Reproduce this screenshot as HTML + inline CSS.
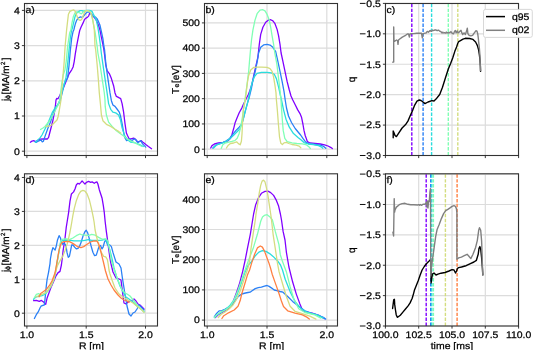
<!DOCTYPE html>
<html><head><meta charset="utf-8"><style>
html,body{margin:0;padding:0;background:#fff;width:533px;height:350px;overflow:hidden;}
svg{display:block;will-change:transform;}
text{font-family:"Liberation Sans", sans-serif;stroke:#000;stroke-width:0.25px;text-rendering:geometricPrecision;}
</style></head><body><svg width="533" height="350" viewBox="0 0 533 350" font-family='"Liberation Sans", sans-serif' font-size="10" fill="#000"><clipPath id="clipa"><rect x="24.5" y="3.5" width="133.0" height="152.0"/></clipPath><clipPath id="clipb"><rect x="204.5" y="3.5" width="133.0" height="152.0"/></clipPath><clipPath id="clipc"><rect x="385.5" y="3.5" width="133.0" height="152.0"/></clipPath><clipPath id="clipd"><rect x="24.5" y="173.8" width="133.0" height="152.2"/></clipPath><clipPath id="clipe"><rect x="204.5" y="173.8" width="133.0" height="152.2"/></clipPath><clipPath id="clipf"><rect x="385.5" y="173.8" width="133.0" height="152.2"/></clipPath><path d="M26.90 3.5V155.5M86.20 3.5V155.5M145.50 3.5V155.5M24.5 151.20H157.5M24.5 116.00H157.5M24.5 80.80H157.5M24.5 45.60H157.5M24.5 10.40H157.5" stroke="#dcdcdc" stroke-width="1.2" fill="none"/><path d="M207.20 3.5V155.5M267.00 3.5V155.5M326.80 3.5V155.5M204.5 149.20H337.5M204.5 123.94H337.5M204.5 98.68H337.5M204.5 73.42H337.5M204.5 48.16H337.5M204.5 22.90H337.5" stroke="#dcdcdc" stroke-width="1.2" fill="none"/><path d="M385.40 3.5V155.5M418.70 3.5V155.5M452.00 3.5V155.5M485.30 3.5V155.5M518.60 3.5V155.5M385.5 155.50H518.5M385.5 125.08H518.5M385.5 94.66H518.5M385.5 64.24H518.5M385.5 33.82H518.5M385.5 3.40H518.5" stroke="#dcdcdc" stroke-width="1.2" fill="none"/><path d="M26.90 173.8V326.0M86.20 173.8V326.0M145.50 173.8V326.0M24.5 313.20H157.5M24.5 279.27H157.5M24.5 245.34H157.5M24.5 211.41H157.5M24.5 177.48H157.5" stroke="#dcdcdc" stroke-width="1.2" fill="none"/><path d="M207.20 173.8V326.0M267.00 173.8V326.0M326.80 173.8V326.0M204.5 320.10H337.5M204.5 289.90H337.5M204.5 259.70H337.5M204.5 229.50H337.5M204.5 199.30H337.5" stroke="#dcdcdc" stroke-width="1.2" fill="none"/><path d="M385.40 173.8V326.0M418.70 173.8V326.0M452.00 173.8V326.0M485.30 173.8V326.0M518.60 173.8V326.0M385.5 326.00H518.5M385.5 295.62H518.5M385.5 265.24H518.5M385.5 234.86H518.5M385.5 204.48H518.5M385.5 174.10H518.5" stroke="#dcdcdc" stroke-width="1.2" fill="none"/><path d="M30.30 142.20 L32.00 141.10 L33.70 140.70 L35.40 141.50 L37.50 140.50 L40.00 139.20 L43.40 139.00 L47.40 139.00 L48.60 137.30 L49.70 133.00 L51.00 128.00 L53.00 120.00 L54.50 112.00 L55.50 105.00 L56.00 100.00 L56.70 98.40 L58.00 98.80 L59.50 96.00 L62.90 88.90 L65.00 83.90 L67.00 79.00 L69.00 73.90 L71.70 69.80 L73.10 67.00 L74.20 61.60 L75.30 53.80 L76.70 45.60 L78.30 37.30 L79.70 30.50 L81.10 27.00 L83.10 22.90 L84.50 19.50 L85.90 18.10 L87.30 17.40 L88.60 16.10 L89.60 13.50 L91.00 13.50 L92.10 15.90 L94.30 17.30 L96.40 20.50 L98.40 25.00 L100.00 30.10 L101.40 37.30 L102.90 44.40 L103.90 50.00 L104.60 55.00 L105.70 64.30 L107.10 70.70 L109.30 73.60 L111.40 78.60 L113.60 85.70 L115.00 92.90 L116.40 96.40 L117.90 97.10 L119.30 97.90 L120.70 98.60 L122.10 103.60 L123.60 112.10 L125.00 123.60 L126.40 133.00 L127.50 135.50 L129.10 138.80 L131.10 138.80 L133.60 138.10 L135.60 139.40 L137.50 142.00 L139.40 141.40 L141.30 140.70 L143.30 142.60 L145.80 144.60 L148.40 146.50 L151.60 148.70" stroke="#8000ff" stroke-width="1.3" fill="none" stroke-linejoin="round" stroke-linecap="round"  clip-path="url(#clipa)"/><path d="M34.90 141.50 L36.00 142.40 L37.70 141.50 L39.40 140.70 L41.10 140.10 L42.30 141.90 L43.40 141.30 L44.30 138.40 L45.70 134.40 L48.00 128.00 L50.50 122.00 L53.00 114.00 L54.50 110.00 L57.00 105.80 L59.00 103.00 L60.90 98.10 L62.80 90.40 L64.70 82.70 L67.60 78.00 L69.00 65.70 L70.30 50.60 L71.70 38.20 L73.10 31.40 L73.80 30.00 L75.20 24.30 L76.60 20.40 L78.40 17.90 L80.60 16.80 L82.40 17.50 L84.00 15.50 L85.60 13.60 L87.40 12.10 L89.10 11.80 L90.60 12.90 L92.00 14.60 L93.40 16.40 L95.60 17.10 L97.00 18.60 L98.40 21.40 L99.90 25.00 L101.40 31.60 L102.90 38.70 L104.00 47.00 L104.60 50.00 L105.90 64.30 L107.90 78.60 L110.00 92.90 L111.40 100.70 L112.90 105.00 L115.00 106.40 L117.00 109.00 L119.30 112.10 L120.50 116.00 L122.10 123.60 L123.60 132.10 L125.00 138.00 L126.60 140.70 L127.90 140.10 L129.50 139.00 L131.70 140.70 L134.30 138.80 L136.00 140.00 L138.10 142.60 L140.70 140.70 L142.60 143.90 L145.80 147.10" stroke="#2a80f6" stroke-width="1.3" fill="none" stroke-linejoin="round" stroke-linecap="round"  clip-path="url(#clipa)"/><path d="M35.40 142.20 L37.70 140.10 L40.00 137.90 L42.00 135.00 L45.00 129.00 L48.00 123.00 L50.50 117.00 L52.50 112.00 L55.00 108.00 L57.60 105.20 L60.20 99.40 L62.10 91.70 L64.10 84.00 L66.00 77.60 L67.60 64.30 L69.00 50.60 L70.30 38.20 L71.70 30.00 L72.40 28.00 L73.40 23.60 L74.90 17.10 L76.30 13.60 L77.70 12.10 L79.90 10.70 L82.00 10.70 L83.40 11.40 L85.00 10.60 L87.00 10.40 L89.10 10.40 L90.60 10.60 L92.00 11.40 L93.40 14.30 L94.90 17.10 L96.50 21.00 L97.90 27.30 L99.20 36.00 L100.40 45.00 L101.30 53.00 L102.90 64.30 L105.00 78.60 L107.10 92.90 L108.60 103.60 L110.70 109.30 L112.90 112.10 L115.70 112.90 L118.60 115.00 L120.50 120.00 L122.10 127.90 L124.60 135.60 L127.90 140.10 L130.40 142.00 L134.00 142.50 L137.00 143.50 L140.70 145.20 L143.30 146.50" stroke="#2adddd" stroke-width="1.3" fill="none" stroke-linejoin="round" stroke-linecap="round"  clip-path="url(#clipa)"/><path d="M40.50 129.50 L43.00 128.00 L45.00 126.50 L47.00 124.00 L49.50 121.00 L52.00 117.00 L55.00 111.00 L57.60 106.00 L59.60 100.70 L60.90 90.40 L62.10 81.40 L63.20 75.00 L64.90 70.00 L66.20 61.60 L67.60 46.50 L69.70 32.70 L70.90 30.00 L72.00 22.90 L73.40 16.40 L74.90 12.90 L76.30 11.80 L78.10 12.10 L79.80 13.00 L81.30 13.90 L82.70 12.50 L84.10 11.10 L85.60 10.60 L87.00 10.70 L88.40 11.10 L89.90 11.40 L91.00 13.50 L92.10 17.30 L95.00 31.60 L97.10 45.90 L97.90 53.00 L100.00 64.30 L102.10 78.60 L104.30 92.90 L105.00 100.00 L105.20 106.40 L106.40 115.00 L108.60 122.10 L112.10 126.40 L116.40 130.70 L120.10 133.50 L124.00 136.20 L127.90 139.40 L131.70 141.40 L136.90 143.90 L142.00 146.50" stroke="#80ffb4" stroke-width="1.3" fill="none" stroke-linejoin="round" stroke-linecap="round"  clip-path="url(#clipa)"/><path d="M46.00 126.50 L49.00 126.00 L52.00 125.00 L55.00 122.00 L57.00 120.00 L58.00 117.00 L59.00 112.00 L60.00 106.00 L61.00 100.00 L61.90 88.00 L62.80 78.00 L64.20 61.60 L65.10 46.50 L66.60 30.00 L67.40 22.90 L68.40 14.30 L69.90 11.40 L72.00 10.40 L73.80 9.90 L75.20 11.40 L76.30 14.30 L77.70 17.90 L79.10 20.00 L80.60 20.40 L82.00 18.90 L83.40 15.00 L84.90 11.80 L86.30 10.60 L87.70 10.70 L89.50 11.40 L90.90 12.90 L92.00 16.40 L93.10 21.40 L93.80 26.40 L94.30 30.00 L95.00 45.90 L95.70 50.00 L97.10 64.30 L98.30 78.60 L99.30 92.90 L100.40 103.60 L101.40 115.00 L102.90 120.70 L106.40 124.30 L110.70 126.40 L115.00 129.30 L118.60 131.40 L120.70 133.00" stroke="#d4dd80" stroke-width="1.3" fill="none" stroke-linejoin="round" stroke-linecap="round"  clip-path="url(#clipa)"/><path d="M210.70 148.00 L212.00 145.60 L214.40 144.00 L218.40 142.90 L223.20 142.40 L228.00 140.80 L230.40 138.40 L232.00 134.40 L233.60 128.80 L235.20 122.40 L237.10 117.80 L239.20 112.70 L241.80 108.10 L243.30 104.50 L246.40 98.30 L248.50 94.20 L250.00 90.10 L252.00 84.00 L255.00 70.00 L257.90 57.10 L259.30 44.40 L260.70 34.40 L262.90 27.30 L265.70 22.30 L268.60 19.90 L270.70 19.70 L272.90 20.90 L275.00 23.70 L277.10 29.40 L278.60 35.90 L280.00 44.40 L281.10 53.00 L282.90 61.40 L285.00 71.40 L287.10 81.40 L289.30 90.00 L291.00 96.00 L292.80 100.00 L295.20 104.80 L297.60 109.60 L300.00 113.60 L301.60 117.60 L302.90 124.00 L304.00 130.40 L305.20 135.50 L306.10 137.90 L307.40 141.70 L310.00 143.00 L315.10 143.40 L320.30 144.00 L324.60 144.90 L328.00 146.00 L330.60 147.30 L332.30 148.60" stroke="#8000ff" stroke-width="1.3" fill="none" stroke-linejoin="round" stroke-linecap="round"  clip-path="url(#clipb)"/><path d="M212.80 148.00 L215.20 145.60 L218.40 144.00 L222.40 142.90 L226.40 140.80 L229.60 138.40 L232.80 134.40 L236.00 130.40 L239.20 127.20 L241.10 124.80 L241.80 124.00 L243.30 118.90 L245.40 110.60 L247.40 103.40 L249.00 98.30 L250.50 92.10 L251.50 88.00 L253.00 80.00 L255.50 70.00 L257.50 60.00 L258.60 53.00 L260.70 47.30 L263.60 44.90 L267.10 44.40 L270.00 45.10 L272.90 47.30 L275.70 51.60 L277.90 61.40 L280.00 71.40 L282.10 81.40 L284.00 91.40 L285.20 100.00 L286.50 108.00 L288.50 116.00 L291.50 122.50 L295.20 128.50 L298.50 132.50 L300.60 135.00 L303.10 138.70 L305.70 142.10 L309.10 143.90 L315.10 144.50 L320.30 145.10 L323.70 146.40 L325.80 148.30" stroke="#2a80f6" stroke-width="1.3" fill="none" stroke-linejoin="round" stroke-linecap="round"  clip-path="url(#clipb)"/><path d="M213.60 148.00 L216.80 144.80 L221.60 143.20 L226.40 141.30 L230.40 138.40 L233.60 135.20 L236.80 132.00 L240.00 128.80 L241.80 124.00 L243.30 118.90 L245.40 110.60 L247.40 103.40 L248.50 98.50 L250.30 90.00 L252.30 82.00 L254.50 76.50 L257.10 73.30 L261.40 72.40 L267.10 72.40 L271.40 72.90 L274.30 74.30 L276.40 78.60 L278.60 87.10 L280.30 95.00 L281.50 100.00 L283.50 109.60 L286.00 119.20 L289.30 127.20 L293.50 133.60 L298.00 137.50 L300.60 139.60 L304.00 142.60 L308.30 144.00 L313.40 144.50 L318.60 145.60 L321.60 147.10 L322.80 148.30" stroke="#2adddd" stroke-width="1.3" fill="none" stroke-linejoin="round" stroke-linecap="round"  clip-path="url(#clipb)"/><path d="M221.20 148.40 L222.80 144.80 L225.20 143.00 L228.80 142.10 L231.80 141.40 L234.80 140.60 L237.20 138.20 L239.00 134.00 L240.20 129.20 L241.40 123.20 L242.60 116.00 L243.40 110.00 L244.30 103.50 L244.90 100.00 L246.30 90.00 L247.60 80.00 L248.80 70.00 L249.60 60.00 L250.50 50.00 L251.50 40.00 L252.90 30.10 L255.00 20.10 L257.10 13.70 L260.00 10.10 L262.90 9.70 L265.00 10.90 L267.10 14.40 L269.30 20.10 L270.70 27.30 L272.10 35.90 L273.60 44.40 L274.80 53.00 L276.90 64.30 L278.60 78.60 L280.30 92.90 L281.00 100.00 L281.60 109.60 L282.40 120.80 L283.20 130.40 L284.80 138.40 L287.20 141.60 L292.00 142.90 L296.80 143.50 L302.30 143.90 L306.60 144.90 L309.10 146.90 L310.40 148.60" stroke="#80ffb4" stroke-width="1.3" fill="none" stroke-linejoin="round" stroke-linecap="round"  clip-path="url(#clipb)"/><path d="M226.40 148.00 L228.00 145.60 L230.40 143.50 L233.60 143.00 L236.60 141.80 L238.40 143.60 L240.20 144.80 L241.40 141.20 L242.00 134.00 L242.60 122.00 L243.40 110.00 L244.50 104.00 L245.30 100.00 L246.50 90.00 L247.50 82.00 L248.60 75.70 L250.70 70.00 L253.60 67.40 L257.10 67.10 L261.40 67.10 L267.10 67.40 L270.00 68.60 L272.10 71.40 L273.60 77.10 L275.00 85.70 L276.00 92.90 L276.40 100.00 L277.30 109.60 L278.40 124.00 L279.50 136.80 L280.80 143.20 L282.40 144.50 L284.00 142.90 L286.40 142.40 L288.80 143.50 L292.00 144.50 L296.00 145.10 L299.20 146.10 L300.80 147.70" stroke="#d4dd80" stroke-width="1.3" fill="none" stroke-linejoin="round" stroke-linecap="round"  clip-path="url(#clipb)"/><path d="M411.10 152.050h1.4V155.500h-1.4ZM411.10 147.105h1.4V150.555h-1.4ZM411.10 142.160h1.4V145.610h-1.4ZM411.10 137.215h1.4V140.665h-1.4ZM411.10 132.270h1.4V135.720h-1.4ZM411.10 127.325h1.4V130.775h-1.4ZM411.10 122.380h1.4V125.830h-1.4ZM411.10 117.435h1.4V120.885h-1.4ZM411.10 112.490h1.4V115.940h-1.4ZM411.10 107.545h1.4V110.995h-1.4ZM411.10 102.600h1.4V106.050h-1.4ZM411.10 97.655h1.4V101.105h-1.4ZM411.10 92.710h1.4V96.160h-1.4ZM411.10 87.765h1.4V91.215h-1.4ZM411.10 82.820h1.4V86.270h-1.4ZM411.10 77.875h1.4V81.325h-1.4ZM411.10 72.930h1.4V76.380h-1.4ZM411.10 67.985h1.4V71.435h-1.4ZM411.10 63.040h1.4V66.490h-1.4ZM411.10 58.095h1.4V61.545h-1.4ZM411.10 53.150h1.4V56.600h-1.4ZM411.10 48.205h1.4V51.655h-1.4ZM411.10 43.260h1.4V46.710h-1.4ZM411.10 38.315h1.4V41.765h-1.4ZM411.10 33.370h1.4V36.820h-1.4ZM411.10 28.425h1.4V31.875h-1.4ZM411.10 23.480h1.4V26.930h-1.4ZM411.10 18.535h1.4V21.985h-1.4ZM411.10 13.590h1.4V17.040h-1.4ZM411.10 8.645h1.4V12.095h-1.4ZM411.10 3.700h1.4V7.150h-1.4Z" fill="#8000ff" stroke="none"/><path d="M422.40 152.050h1.4V155.500h-1.4ZM422.40 147.105h1.4V150.555h-1.4ZM422.40 142.160h1.4V145.610h-1.4ZM422.40 137.215h1.4V140.665h-1.4ZM422.40 132.270h1.4V135.720h-1.4ZM422.40 127.325h1.4V130.775h-1.4ZM422.40 122.380h1.4V125.830h-1.4ZM422.40 117.435h1.4V120.885h-1.4ZM422.40 112.490h1.4V115.940h-1.4ZM422.40 107.545h1.4V110.995h-1.4ZM422.40 102.600h1.4V106.050h-1.4ZM422.40 97.655h1.4V101.105h-1.4ZM422.40 92.710h1.4V96.160h-1.4ZM422.40 87.765h1.4V91.215h-1.4ZM422.40 82.820h1.4V86.270h-1.4ZM422.40 77.875h1.4V81.325h-1.4ZM422.40 72.930h1.4V76.380h-1.4ZM422.40 67.985h1.4V71.435h-1.4ZM422.40 63.040h1.4V66.490h-1.4ZM422.40 58.095h1.4V61.545h-1.4ZM422.40 53.150h1.4V56.600h-1.4ZM422.40 48.205h1.4V51.655h-1.4ZM422.40 43.260h1.4V46.710h-1.4ZM422.40 38.315h1.4V41.765h-1.4ZM422.40 33.370h1.4V36.820h-1.4ZM422.40 28.425h1.4V31.875h-1.4ZM422.40 23.480h1.4V26.930h-1.4ZM422.40 18.535h1.4V21.985h-1.4ZM422.40 13.590h1.4V17.040h-1.4ZM422.40 8.645h1.4V12.095h-1.4ZM422.40 3.700h1.4V7.150h-1.4Z" fill="#2a80f6" stroke="none"/><path d="M430.90 152.050h1.4V155.500h-1.4ZM430.90 147.105h1.4V150.555h-1.4ZM430.90 142.160h1.4V145.610h-1.4ZM430.90 137.215h1.4V140.665h-1.4ZM430.90 132.270h1.4V135.720h-1.4ZM430.90 127.325h1.4V130.775h-1.4ZM430.90 122.380h1.4V125.830h-1.4ZM430.90 117.435h1.4V120.885h-1.4ZM430.90 112.490h1.4V115.940h-1.4ZM430.90 107.545h1.4V110.995h-1.4ZM430.90 102.600h1.4V106.050h-1.4ZM430.90 97.655h1.4V101.105h-1.4ZM430.90 92.710h1.4V96.160h-1.4ZM430.90 87.765h1.4V91.215h-1.4ZM430.90 82.820h1.4V86.270h-1.4ZM430.90 77.875h1.4V81.325h-1.4ZM430.90 72.930h1.4V76.380h-1.4ZM430.90 67.985h1.4V71.435h-1.4ZM430.90 63.040h1.4V66.490h-1.4ZM430.90 58.095h1.4V61.545h-1.4ZM430.90 53.150h1.4V56.600h-1.4ZM430.90 48.205h1.4V51.655h-1.4ZM430.90 43.260h1.4V46.710h-1.4ZM430.90 38.315h1.4V41.765h-1.4ZM430.90 33.370h1.4V36.820h-1.4ZM430.90 28.425h1.4V31.875h-1.4ZM430.90 23.480h1.4V26.930h-1.4ZM430.90 18.535h1.4V21.985h-1.4ZM430.90 13.590h1.4V17.040h-1.4ZM430.90 8.645h1.4V12.095h-1.4ZM430.90 3.700h1.4V7.150h-1.4Z" fill="#2adddd" stroke="none"/><path d="M447.60 152.050h1.4V155.500h-1.4ZM447.60 147.105h1.4V150.555h-1.4ZM447.60 142.160h1.4V145.610h-1.4ZM447.60 137.215h1.4V140.665h-1.4ZM447.60 132.270h1.4V135.720h-1.4ZM447.60 127.325h1.4V130.775h-1.4ZM447.60 122.380h1.4V125.830h-1.4ZM447.60 117.435h1.4V120.885h-1.4ZM447.60 112.490h1.4V115.940h-1.4ZM447.60 107.545h1.4V110.995h-1.4ZM447.60 102.600h1.4V106.050h-1.4ZM447.60 97.655h1.4V101.105h-1.4ZM447.60 92.710h1.4V96.160h-1.4ZM447.60 87.765h1.4V91.215h-1.4ZM447.60 82.820h1.4V86.270h-1.4ZM447.60 77.875h1.4V81.325h-1.4ZM447.60 72.930h1.4V76.380h-1.4ZM447.60 67.985h1.4V71.435h-1.4ZM447.60 63.040h1.4V66.490h-1.4ZM447.60 58.095h1.4V61.545h-1.4ZM447.60 53.150h1.4V56.600h-1.4ZM447.60 48.205h1.4V51.655h-1.4ZM447.60 43.260h1.4V46.710h-1.4ZM447.60 38.315h1.4V41.765h-1.4ZM447.60 33.370h1.4V36.820h-1.4ZM447.60 28.425h1.4V31.875h-1.4ZM447.60 23.480h1.4V26.930h-1.4ZM447.60 18.535h1.4V21.985h-1.4ZM447.60 13.590h1.4V17.040h-1.4ZM447.60 8.645h1.4V12.095h-1.4ZM447.60 3.700h1.4V7.150h-1.4Z" fill="#80ffb4" stroke="none"/><path d="M457.10 152.050h1.4V155.500h-1.4ZM457.10 147.105h1.4V150.555h-1.4ZM457.10 142.160h1.4V145.610h-1.4ZM457.10 137.215h1.4V140.665h-1.4ZM457.10 132.270h1.4V135.720h-1.4ZM457.10 127.325h1.4V130.775h-1.4ZM457.10 122.380h1.4V125.830h-1.4ZM457.10 117.435h1.4V120.885h-1.4ZM457.10 112.490h1.4V115.940h-1.4ZM457.10 107.545h1.4V110.995h-1.4ZM457.10 102.600h1.4V106.050h-1.4ZM457.10 97.655h1.4V101.105h-1.4ZM457.10 92.710h1.4V96.160h-1.4ZM457.10 87.765h1.4V91.215h-1.4ZM457.10 82.820h1.4V86.270h-1.4ZM457.10 77.875h1.4V81.325h-1.4ZM457.10 72.930h1.4V76.380h-1.4ZM457.10 67.985h1.4V71.435h-1.4ZM457.10 63.040h1.4V66.490h-1.4ZM457.10 58.095h1.4V61.545h-1.4ZM457.10 53.150h1.4V56.600h-1.4ZM457.10 48.205h1.4V51.655h-1.4ZM457.10 43.260h1.4V46.710h-1.4ZM457.10 38.315h1.4V41.765h-1.4ZM457.10 33.370h1.4V36.820h-1.4ZM457.10 28.425h1.4V31.875h-1.4ZM457.10 23.480h1.4V26.930h-1.4ZM457.10 18.535h1.4V21.985h-1.4ZM457.10 13.590h1.4V17.040h-1.4ZM457.10 8.645h1.4V12.095h-1.4ZM457.10 3.700h1.4V7.150h-1.4Z" fill="#d4dd80" stroke="none"/><path d="M393.20 137.70 L393.20 131.00 L394.10 133.10 L395.00 135.50 L396.40 136.60 L398.70 133.10 L402.10 128.00 L405.60 124.60 L407.90 121.10 L410.10 116.00 L412.40 110.90 L414.70 105.10 L417.00 101.10 L419.30 100.00 L421.00 100.50 L422.70 101.70 L425.00 103.60 L428.00 102.00 L432.00 100.60 L434.00 101.00 L436.00 99.10 L439.70 94.50 L442.40 87.50 L445.40 78.00 L448.30 69.00 L450.60 63.50 L452.70 58.00 L454.90 51.10 L456.60 46.90 L457.90 43.00 L458.70 41.70 L460.90 40.40 L463.00 39.10 L465.30 38.30 L469.60 38.50 L473.00 39.40 L475.60 42.00 L477.30 45.40 L478.60 49.70 L479.40 54.90 L480.00 60.00 L480.40 66.00 L480.60 71.40" stroke="#000000" stroke-width="1.4" fill="none" stroke-linejoin="round" stroke-linecap="round"  clip-path="url(#clipc)"/><path d="M392.70 62.10 L393.70 62.00 L393.70 26.90 L394.00 41.00 L394.40 41.40 L396.60 40.00 L397.50 40.50 L398.00 44.30 L398.50 40.00 L399.40 39.30 L402.30 37.10 L405.10 35.70 L407.30 34.00 L408.50 34.00 L409.40 37.10 L410.10 33.90 L411.60 33.60 L413.70 33.60 L416.60 33.30 L419.40 33.10 L421.50 33.30 L422.30 37.90 L423.00 33.60 L425.10 33.10 L425.83 33.11 L426.55 32.50 L427.27 31.41 L428.00 31.60 L428.60 32.15 L429.20 31.50 L429.80 30.63 L430.40 30.54 L431.00 31.30 L431.77 31.22 L432.53 30.01 L433.30 30.50 L434.03 30.31 L434.77 30.01 L435.50 29.80 L436.25 30.16 L437.00 30.50 L437.75 30.44 L438.50 30.10 L439.25 30.79 L440.00 31.30 L440.75 31.51 L441.50 32.40 L442.10 32.93 L442.70 32.17 L443.30 32.61 L443.90 33.02 L444.50 32.60 L445.10 33.06 L445.70 32.99 L446.30 32.11 L446.90 32.78 L447.50 32.80 L448.27 32.95 L449.03 32.41 L449.80 32.80 L450.90 31.60 L452.00 33.10 L452.75 33.63 L453.50 33.90 L454.60 31.30 L455.40 30.50 L456.10 32.80 L457.30 30.90 L458.00 32.90 L458.85 32.38 L459.70 31.60 L460.35 30.77 L461.00 30.30 L461.90 32.90 L462.70 34.60 L463.35 33.57 L464.00 32.90 L464.65 33.46 L465.30 34.60 L466.60 31.10 L467.30 28.10 L467.90 33.70 L469.10 35.40 L470.90 35.90 L472.60 35.40 L474.30 32.90 L476.00 30.70 L477.00 31.10 L477.70 33.70 L478.30 38.00 L478.70 42.30 L479.30 47.40 L479.90 55.00 L480.20 62.70 L480.50 70.60" stroke="#808080" stroke-width="1.4" fill="none" stroke-linejoin="round" stroke-linecap="round"  clip-path="url(#clipc)"/><path d="M33.60 300.70 L36.40 300.40 L39.30 301.40 L41.40 300.40 L43.60 302.10 L45.70 304.30 L47.10 297.90 L49.30 292.10 L51.40 286.40 L53.60 281.40 L55.70 276.40 L57.90 272.90 L60.00 271.40 L61.40 265.00 L62.30 258.00 L63.10 250.60 L64.90 239.10 L66.20 227.70 L67.10 222.00 L68.60 212.60 L70.00 201.10 L71.40 194.00 L73.60 191.90 L75.00 189.00 L76.40 184.70 L77.90 183.30 L79.30 184.00 L80.70 182.60 L82.10 180.90 L83.60 182.60 L85.00 184.00 L86.40 182.30 L88.60 181.40 L90.70 182.30 L92.10 181.90 L94.30 183.30 L95.70 182.30 L96.90 181.90 L97.90 184.00 L99.30 189.70 L100.70 194.00 L102.10 198.30 L103.30 205.40 L104.30 212.60 L105.20 222.00 L106.30 231.10 L107.40 239.10 L108.60 248.30 L109.70 256.30 L110.60 262.00 L113.00 272.00 L116.00 278.00 L119.00 279.00 L121.00 280.00 L122.00 288.00 L123.00 296.00 L124.00 303.00 L126.00 304.00 L128.00 302.00 L131.00 301.00 L134.00 299.00 L136.00 301.00 L138.00 304.00 L140.00 305.00 L142.00 307.00 L144.00 309.00" stroke="#8000ff" stroke-width="1.3" fill="none" stroke-linejoin="round" stroke-linecap="round"  clip-path="url(#clipd)"/><path d="M34.40 318.50 L36.30 314.70 L38.20 311.90 L40.00 308.00 L41.00 306.20 L42.90 305.30 L44.30 305.00 L45.00 299.30 L45.70 292.10 L46.40 285.00 L47.10 279.30 L48.60 272.10 L50.00 263.60 L50.40 259.00 L51.70 251.70 L52.90 247.70 L54.00 248.90 L55.10 250.00 L56.30 246.00 L57.40 240.30 L59.10 235.70 L60.50 238.00 L61.40 242.00 L62.60 244.30 L63.70 243.10 L65.00 244.00 L66.00 246.00 L67.10 252.90 L68.30 257.40 L69.40 256.30 L70.60 250.60 L71.70 244.90 L73.00 245.00 L74.60 247.10 L76.30 248.90 L78.00 248.30 L79.70 246.00 L81.40 241.40 L83.10 235.70 L84.90 231.70 L86.20 230.20 L87.70 232.90 L89.40 239.10 L91.10 246.00 L92.90 252.30 L94.60 255.70 L96.30 255.10 L97.70 250.60 L99.10 246.00 L100.50 245.50 L102.00 248.90 L103.10 247.10 L104.50 242.00 L105.10 240.90 L106.00 240.30 L107.50 244.90 L109.70 244.90 L111.40 246.60 L113.10 252.90 L114.90 258.60 L116.00 262.00 L119.00 264.00 L121.00 268.00 L122.40 278.00 L124.00 288.00 L125.60 298.00 L127.00 306.00 L129.00 314.00 L131.00 316.00 L133.00 313.00 L135.00 312.00 L137.00 309.00 L139.00 305.00 L141.00 307.00 L143.00 309.00 L144.00 310.00" stroke="#2a80f6" stroke-width="1.3" fill="none" stroke-linejoin="round" stroke-linecap="round"  clip-path="url(#clipd)"/><path d="M33.60 299.30 L35.70 297.10 L38.60 296.40 L42.10 295.70 L45.70 293.60 L49.30 289.30 L52.10 283.60 L55.00 276.00 L56.60 266.00 L57.80 258.20 L59.30 249.50 L60.70 241.70 L62.50 240.30 L66.00 240.00 L70.60 240.30 L74.00 240.90 L77.40 240.90 L81.40 240.90 L84.90 240.30 L88.30 239.70 L91.70 240.30 L95.10 240.30 L98.60 240.30 L102.00 240.10 L105.40 239.10 L107.40 242.60 L109.70 249.40 L112.00 258.60 L114.00 268.00 L117.00 278.00 L120.00 286.00 L123.00 292.00 L126.00 297.00 L129.00 299.00 L133.00 302.00 L137.00 306.00 L141.00 309.00 L144.00 311.60" stroke="#2adddd" stroke-width="1.3" fill="none" stroke-linejoin="round" stroke-linecap="round"  clip-path="url(#clipd)"/><path d="M34.30 297.90 L36.40 294.30 L38.60 293.60 L40.70 295.00 L44.30 293.60 L47.90 290.70 L50.70 286.40 L53.60 280.00 L55.50 272.00 L56.40 266.00 L57.80 258.20 L59.30 249.50 L60.70 241.70 L62.20 239.30 L64.60 238.80 L67.50 239.00 L69.40 239.70 L72.90 238.00 L76.30 235.70 L79.90 234.00 L81.40 234.60 L84.90 235.10 L88.30 235.70 L91.70 234.30 L95.10 235.10 L98.60 237.40 L102.00 239.10 L104.00 239.10 L106.30 239.10 L108.00 241.40 L109.10 247.10 L110.30 254.00 L111.40 260.90 L113.00 266.00 L115.00 272.00 L117.50 279.00 L120.00 285.00 L122.00 290.00 L125.00 293.00 L127.00 294.00 L130.00 296.00 L134.00 301.00 L138.00 306.00 L142.00 310.00 L144.00 312.00" stroke="#80ffb4" stroke-width="1.3" fill="none" stroke-linejoin="round" stroke-linecap="round"  clip-path="url(#clipd)"/><path d="M36.00 297.00 L39.00 295.50 L42.00 294.50 L45.00 293.00 L48.00 290.50 L51.00 286.00 L53.50 280.00 L55.50 272.00 L57.30 266.00 L59.80 261.10 L62.70 256.30 L65.10 250.40 L67.00 244.60 L68.50 238.80 L70.00 232.00 L71.00 226.60 L71.80 222.00 L72.90 215.40 L74.30 208.30 L76.40 200.40 L78.60 194.70 L80.70 191.40 L82.90 190.40 L85.00 191.10 L87.10 194.00 L89.30 199.70 L91.40 208.30 L93.20 216.90 L94.10 222.00 L95.10 230.00 L96.90 238.00 L98.60 244.90 L100.90 251.70 L103.70 256.30 L105.70 256.90 L107.40 259.70 L108.20 264.00 L109.00 270.00 L110.00 274.00 L112.00 280.00 L115.00 288.00 L119.00 294.00 L123.00 297.00 L128.00 300.00 L133.00 303.00 L138.00 307.00 L142.00 310.00 L144.00 312.40" stroke="#d4dd80" stroke-width="1.3" fill="none" stroke-linejoin="round" stroke-linecap="round"  clip-path="url(#clipd)"/><path d="M39.10 296.80 L40.70 293.60 L43.60 291.40 L46.40 289.30 L49.30 285.70 L52.10 280.70 L55.00 273.00 L56.30 266.00 L57.50 259.20 L58.80 251.40 L60.30 245.60 L61.70 242.70 L63.70 241.70 L66.60 241.50 L69.50 241.70 L72.30 243.10 L75.10 244.90 L77.40 246.60 L80.90 247.70 L83.70 246.60 L87.10 244.30 L90.60 242.00 L94.00 240.90 L96.90 241.20 L98.60 243.70 L100.30 249.40 L102.00 256.30 L103.40 262.00 L105.50 271.00 L108.00 279.00 L111.00 285.00 L114.00 290.00 L118.00 295.00 L121.00 298.00 L124.00 300.00 L127.00 301.00 L129.00 302.40" stroke="#ff8042" stroke-width="1.3" fill="none" stroke-linejoin="round" stroke-linecap="round"  clip-path="url(#clipd)"/><path d="M215.30 317.50 L218.20 314.70 L222.90 311.90 L228.50 308.70 L232.30 304.30 L234.20 298.70 L237.00 291.10 L239.80 282.60 L242.70 271.30 L245.20 260.00 L247.40 248.60 L250.30 234.30 L252.30 222.00 L253.60 214.00 L255.70 204.70 L258.60 197.60 L261.40 193.30 L265.00 191.40 L267.90 191.10 L270.70 192.60 L273.60 195.40 L276.40 200.40 L278.60 206.10 L280.40 214.00 L281.50 220.00 L283.10 231.40 L285.00 240.00 L286.40 252.30 L288.90 267.00 L292.60 281.80 L296.30 294.10 L299.90 303.90 L302.40 310.00 L304.90 311.70 L312.20 313.20 L319.60 315.70 L324.50 318.60" stroke="#8000ff" stroke-width="1.3" fill="none" stroke-linejoin="round" stroke-linecap="round"  clip-path="url(#clipe)"/><path d="M214.40 316.60 L216.30 313.80 L219.10 310.90 L221.90 310.60 L224.80 309.40 L228.50 307.20 L232.30 304.30 L235.10 300.60 L238.00 296.80 L241.70 294.00 L245.50 293.00 L248.00 292.50 L250.10 292.20 L252.10 290.70 L255.20 288.60 L258.30 287.60 L261.40 287.10 L264.50 286.10 L267.00 285.50 L269.10 286.40 L271.70 288.10 L274.20 290.00 L276.80 290.70 L279.90 291.50 L283.00 292.20 L287.70 296.50 L292.60 301.40 L298.70 306.30 L304.90 310.80 L311.00 313.20 L317.10 314.90 L323.30 317.40 L325.70 319.10" stroke="#2a80f6" stroke-width="1.3" fill="none" stroke-linejoin="round" stroke-linecap="round"  clip-path="url(#clipe)"/><path d="M214.40 317.50 L217.20 314.70 L221.90 311.90 L226.00 309.00 L230.00 305.50 L234.00 300.00 L237.00 294.90 L240.80 284.50 L244.60 273.20 L248.00 265.50 L251.70 261.40 L255.30 255.70 L258.90 252.10 L262.40 250.70 L266.00 251.40 L269.60 253.60 L273.10 256.40 L277.40 260.70 L280.50 265.00 L282.50 270.00 L285.20 279.30 L290.10 291.60 L295.00 301.40 L301.20 308.80 L307.30 312.50 L317.10 314.90 L323.30 318.10" stroke="#2adddd" stroke-width="1.3" fill="none" stroke-linejoin="round" stroke-linecap="round"  clip-path="url(#clipe)"/><path d="M214.40 317.50 L217.20 314.50 L221.00 312.00 L226.00 309.50 L230.50 306.00 L234.00 300.00 L238.00 290.20 L243.00 276.00 L248.10 261.40 L253.10 248.60 L257.40 234.30 L260.80 221.00 L262.50 217.00 L264.30 215.40 L267.10 214.70 L270.00 216.90 L272.40 220.00 L275.30 231.40 L278.90 244.30 L280.30 254.70 L282.70 262.10 L286.40 271.90 L290.10 286.70 L293.80 299.00 L298.70 308.80 L304.90 312.50 L314.70 314.90 L320.80 318.10" stroke="#80ffb4" stroke-width="1.3" fill="none" stroke-linejoin="round" stroke-linecap="round"  clip-path="url(#clipe)"/><path d="M218.20 317.50 L221.00 314.50 L225.00 312.00 L229.00 309.00 L233.00 305.00 L236.50 299.50 L239.80 292.10 L242.50 284.00 L244.80 277.00 L247.00 271.00 L248.50 266.00 L249.70 260.00 L251.00 248.60 L253.10 234.30 L255.30 220.00 L256.00 214.00 L257.90 202.60 L259.30 192.60 L260.70 185.40 L262.10 181.10 L263.60 180.10 L265.00 181.90 L266.40 187.60 L267.90 195.40 L269.30 204.70 L270.70 214.00 L271.50 220.00 L273.10 234.30 L275.30 248.60 L276.60 257.20 L277.40 262.90 L279.10 271.90 L282.70 284.20 L286.40 296.50 L290.10 306.30 L295.00 311.30 L302.40 313.70 L309.80 316.20 L315.90 319.10" stroke="#d4dd80" stroke-width="1.3" fill="none" stroke-linejoin="round" stroke-linecap="round"  clip-path="url(#clipe)"/><path d="M221.90 318.50 L223.80 315.70 L228.50 312.80 L234.20 310.00 L238.00 306.20 L240.20 300.60 L241.70 294.00 L244.60 284.50 L247.40 275.10 L249.60 270.00 L251.70 262.90 L254.60 254.30 L257.40 247.90 L260.30 246.00 L262.40 247.10 L264.60 251.40 L266.70 257.10 L268.90 262.90 L270.50 268.00 L272.20 274.20 L274.70 281.40 L277.30 288.60 L279.40 294.80 L281.40 301.00 L283.50 306.50 L287.70 310.80 L295.00 313.20 L302.40 314.90 L307.30 317.40 L309.30 319.10" stroke="#ff8042" stroke-width="1.3" fill="none" stroke-linejoin="round" stroke-linecap="round"  clip-path="url(#clipe)"/><path d="M425.50 322.550h1.4V326.000h-1.4ZM425.50 317.605h1.4V321.055h-1.4ZM425.50 312.660h1.4V316.110h-1.4ZM425.50 307.715h1.4V311.165h-1.4ZM425.50 302.770h1.4V306.220h-1.4ZM425.50 297.825h1.4V301.275h-1.4ZM425.50 292.880h1.4V296.330h-1.4ZM425.50 287.935h1.4V291.385h-1.4ZM425.50 282.990h1.4V286.440h-1.4ZM425.50 278.045h1.4V281.495h-1.4ZM425.50 273.100h1.4V276.550h-1.4ZM425.50 268.155h1.4V271.605h-1.4ZM425.50 263.210h1.4V266.660h-1.4ZM425.50 258.265h1.4V261.715h-1.4ZM425.50 253.320h1.4V256.770h-1.4ZM425.50 248.375h1.4V251.825h-1.4ZM425.50 243.430h1.4V246.880h-1.4ZM425.50 238.485h1.4V241.935h-1.4ZM425.50 233.540h1.4V236.990h-1.4ZM425.50 228.595h1.4V232.045h-1.4ZM425.50 223.650h1.4V227.100h-1.4ZM425.50 218.705h1.4V222.155h-1.4ZM425.50 213.760h1.4V217.210h-1.4ZM425.50 208.815h1.4V212.265h-1.4ZM425.50 203.870h1.4V207.320h-1.4ZM425.50 198.925h1.4V202.375h-1.4ZM425.50 193.980h1.4V197.430h-1.4ZM425.50 189.035h1.4V192.485h-1.4ZM425.50 184.090h1.4V187.540h-1.4ZM425.50 179.145h1.4V182.595h-1.4ZM425.50 174.200h1.4V177.650h-1.4Z" fill="#8000ff" stroke="none"/><path d="M430.00 322.550h1.4V326.000h-1.4ZM430.00 317.605h1.4V321.055h-1.4ZM430.00 312.660h1.4V316.110h-1.4ZM430.00 307.715h1.4V311.165h-1.4ZM430.00 302.770h1.4V306.220h-1.4ZM430.00 297.825h1.4V301.275h-1.4ZM430.00 292.880h1.4V296.330h-1.4ZM430.00 287.935h1.4V291.385h-1.4ZM430.00 282.990h1.4V286.440h-1.4ZM430.00 278.045h1.4V281.495h-1.4ZM430.00 273.100h1.4V276.550h-1.4ZM430.00 268.155h1.4V271.605h-1.4ZM430.00 263.210h1.4V266.660h-1.4ZM430.00 258.265h1.4V261.715h-1.4ZM430.00 253.320h1.4V256.770h-1.4ZM430.00 248.375h1.4V251.825h-1.4ZM430.00 243.430h1.4V246.880h-1.4ZM430.00 238.485h1.4V241.935h-1.4ZM430.00 233.540h1.4V236.990h-1.4ZM430.00 228.595h1.4V232.045h-1.4ZM430.00 223.650h1.4V227.100h-1.4ZM430.00 218.705h1.4V222.155h-1.4ZM430.00 213.760h1.4V217.210h-1.4ZM430.00 208.815h1.4V212.265h-1.4ZM430.00 203.870h1.4V207.320h-1.4ZM430.00 198.925h1.4V202.375h-1.4ZM430.00 193.980h1.4V197.430h-1.4ZM430.00 189.035h1.4V192.485h-1.4ZM430.00 184.090h1.4V187.540h-1.4ZM430.00 179.145h1.4V182.595h-1.4ZM430.00 174.200h1.4V177.650h-1.4Z" fill="#2a80f6" stroke="none"/><path d="M431.10 322.550h1.4V326.000h-1.4ZM431.10 317.605h1.4V321.055h-1.4ZM431.10 312.660h1.4V316.110h-1.4ZM431.10 307.715h1.4V311.165h-1.4ZM431.10 302.770h1.4V306.220h-1.4ZM431.10 297.825h1.4V301.275h-1.4ZM431.10 292.880h1.4V296.330h-1.4ZM431.10 287.935h1.4V291.385h-1.4ZM431.10 282.990h1.4V286.440h-1.4ZM431.10 278.045h1.4V281.495h-1.4ZM431.10 273.100h1.4V276.550h-1.4ZM431.10 268.155h1.4V271.605h-1.4ZM431.10 263.210h1.4V266.660h-1.4ZM431.10 258.265h1.4V261.715h-1.4ZM431.10 253.320h1.4V256.770h-1.4ZM431.10 248.375h1.4V251.825h-1.4ZM431.10 243.430h1.4V246.880h-1.4ZM431.10 238.485h1.4V241.935h-1.4ZM431.10 233.540h1.4V236.990h-1.4ZM431.10 228.595h1.4V232.045h-1.4ZM431.10 223.650h1.4V227.100h-1.4ZM431.10 218.705h1.4V222.155h-1.4ZM431.10 213.760h1.4V217.210h-1.4ZM431.10 208.815h1.4V212.265h-1.4ZM431.10 203.870h1.4V207.320h-1.4ZM431.10 198.925h1.4V202.375h-1.4ZM431.10 193.980h1.4V197.430h-1.4ZM431.10 189.035h1.4V192.485h-1.4ZM431.10 184.090h1.4V187.540h-1.4ZM431.10 179.145h1.4V182.595h-1.4ZM431.10 174.200h1.4V177.650h-1.4Z" fill="#2adddd" stroke="none"/><path d="M432.70 322.550h1.4V326.000h-1.4ZM432.70 317.605h1.4V321.055h-1.4ZM432.70 312.660h1.4V316.110h-1.4ZM432.70 307.715h1.4V311.165h-1.4ZM432.70 302.770h1.4V306.220h-1.4ZM432.70 297.825h1.4V301.275h-1.4ZM432.70 292.880h1.4V296.330h-1.4ZM432.70 287.935h1.4V291.385h-1.4ZM432.70 282.990h1.4V286.440h-1.4ZM432.70 278.045h1.4V281.495h-1.4ZM432.70 273.100h1.4V276.550h-1.4ZM432.70 268.155h1.4V271.605h-1.4ZM432.70 263.210h1.4V266.660h-1.4ZM432.70 258.265h1.4V261.715h-1.4ZM432.70 253.320h1.4V256.770h-1.4ZM432.70 248.375h1.4V251.825h-1.4ZM432.70 243.430h1.4V246.880h-1.4ZM432.70 238.485h1.4V241.935h-1.4ZM432.70 233.540h1.4V236.990h-1.4ZM432.70 228.595h1.4V232.045h-1.4ZM432.70 223.650h1.4V227.100h-1.4ZM432.70 218.705h1.4V222.155h-1.4ZM432.70 213.760h1.4V217.210h-1.4ZM432.70 208.815h1.4V212.265h-1.4ZM432.70 203.870h1.4V207.320h-1.4ZM432.70 198.925h1.4V202.375h-1.4ZM432.70 193.980h1.4V197.430h-1.4ZM432.70 189.035h1.4V192.485h-1.4ZM432.70 184.090h1.4V187.540h-1.4ZM432.70 179.145h1.4V182.595h-1.4ZM432.70 174.200h1.4V177.650h-1.4Z" fill="#80ffb4" stroke="none"/><path d="M444.70 322.550h1.4V326.000h-1.4ZM444.70 317.605h1.4V321.055h-1.4ZM444.70 312.660h1.4V316.110h-1.4ZM444.70 307.715h1.4V311.165h-1.4ZM444.70 302.770h1.4V306.220h-1.4ZM444.70 297.825h1.4V301.275h-1.4ZM444.70 292.880h1.4V296.330h-1.4ZM444.70 287.935h1.4V291.385h-1.4ZM444.70 282.990h1.4V286.440h-1.4ZM444.70 278.045h1.4V281.495h-1.4ZM444.70 273.100h1.4V276.550h-1.4ZM444.70 268.155h1.4V271.605h-1.4ZM444.70 263.210h1.4V266.660h-1.4ZM444.70 258.265h1.4V261.715h-1.4ZM444.70 253.320h1.4V256.770h-1.4ZM444.70 248.375h1.4V251.825h-1.4ZM444.70 243.430h1.4V246.880h-1.4ZM444.70 238.485h1.4V241.935h-1.4ZM444.70 233.540h1.4V236.990h-1.4ZM444.70 228.595h1.4V232.045h-1.4ZM444.70 223.650h1.4V227.100h-1.4ZM444.70 218.705h1.4V222.155h-1.4ZM444.70 213.760h1.4V217.210h-1.4ZM444.70 208.815h1.4V212.265h-1.4ZM444.70 203.870h1.4V207.320h-1.4ZM444.70 198.925h1.4V202.375h-1.4ZM444.70 193.980h1.4V197.430h-1.4ZM444.70 189.035h1.4V192.485h-1.4ZM444.70 184.090h1.4V187.540h-1.4ZM444.70 179.145h1.4V182.595h-1.4ZM444.70 174.200h1.4V177.650h-1.4Z" fill="#d4dd80" stroke="none"/><path d="M456.40 322.550h1.4V326.000h-1.4ZM456.40 317.605h1.4V321.055h-1.4ZM456.40 312.660h1.4V316.110h-1.4ZM456.40 307.715h1.4V311.165h-1.4ZM456.40 302.770h1.4V306.220h-1.4ZM456.40 297.825h1.4V301.275h-1.4ZM456.40 292.880h1.4V296.330h-1.4ZM456.40 287.935h1.4V291.385h-1.4ZM456.40 282.990h1.4V286.440h-1.4ZM456.40 278.045h1.4V281.495h-1.4ZM456.40 273.100h1.4V276.550h-1.4ZM456.40 268.155h1.4V271.605h-1.4ZM456.40 263.210h1.4V266.660h-1.4ZM456.40 258.265h1.4V261.715h-1.4ZM456.40 253.320h1.4V256.770h-1.4ZM456.40 248.375h1.4V251.825h-1.4ZM456.40 243.430h1.4V246.880h-1.4ZM456.40 238.485h1.4V241.935h-1.4ZM456.40 233.540h1.4V236.990h-1.4ZM456.40 228.595h1.4V232.045h-1.4ZM456.40 223.650h1.4V227.100h-1.4ZM456.40 218.705h1.4V222.155h-1.4ZM456.40 213.760h1.4V217.210h-1.4ZM456.40 208.815h1.4V212.265h-1.4ZM456.40 203.870h1.4V207.320h-1.4ZM456.40 198.925h1.4V202.375h-1.4ZM456.40 193.980h1.4V197.430h-1.4ZM456.40 189.035h1.4V192.485h-1.4ZM456.40 184.090h1.4V187.540h-1.4ZM456.40 179.145h1.4V182.595h-1.4ZM456.40 174.200h1.4V177.650h-1.4Z" fill="#ff8042" stroke="none"/><path d="M392.60 308.50 L393.70 299.80 L394.40 299.30 L394.70 304.40 L395.40 309.50 L396.20 314.70 L397.30 317.30 L398.30 316.70 L400.30 315.20 L402.90 312.10 L405.50 309.00 L408.10 305.90 L410.10 302.90 L412.20 298.20 L413.70 293.10 L414.50 290.00 L416.30 285.50 L418.10 281.00 L420.00 275.50 L422.10 270.00 L424.30 266.50 L426.40 263.80 L428.60 261.60 L430.30 259.70 L431.00 262.00 L431.10 283.00 L431.80 278.00 L432.50 274.00 L434.00 273.00 L436.00 275.00 L438.00 274.20 L441.00 273.20 L445.00 272.50 L449.00 271.00 L452.00 269.60 L454.00 270.00 L455.50 273.00 L456.60 271.00 L457.40 268.50 L458.60 267.60 L461.50 267.00 L465.00 266.00 L466.10 265.70 L470.40 263.70 L473.90 262.00 L476.40 260.30 L478.20 254.30 L479.00 248.30 L479.90 246.60 L480.70 249.20 L481.60 257.70 L482.40 268.00 L482.80 274.90" stroke="#000000" stroke-width="1.4" fill="none" stroke-linejoin="round" stroke-linecap="round"  clip-path="url(#clipf)"/><path d="M392.90 232.10 L393.60 236.00 L394.20 198.60 L394.60 212.00 L395.00 210.00 L396.40 207.10 L399.30 204.70 L402.10 203.60 L405.00 203.30 L407.90 204.30 L410.70 204.70 L413.60 204.70 L417.90 205.00 L418.50 204.67 L419.10 204.79 L419.70 205.36 L420.30 204.54 L420.90 204.80 L421.50 205.35 L422.10 205.00 L422.83 204.38 L423.55 204.25 L424.27 204.28 L425.00 204.30 L426.40 202.00 L427.00 207.00 L427.50 201.00 L428.00 208.00 L428.60 201.00 L429.30 201.40 L430.00 191.40 L430.50 188.60 L430.80 276.00 L431.40 267.90 L432.10 262.10 L433.10 255.00 L434.30 246.40 L435.70 236.40 L437.10 229.50 L439.30 224.30 L441.40 218.60 L443.60 213.60 L445.70 210.70 L447.90 209.30 L450.00 207.90 L452.10 206.40 L454.00 205.70 L455.40 206.40 L456.40 208.60 L456.90 212.90 L456.90 259.30 L458.60 257.90 L461.40 257.10 L464.30 255.70 L467.10 254.30 L468.70 256.00 L470.80 258.60 L473.00 254.30 L475.60 247.40 L477.30 240.60 L478.70 230.30 L479.50 227.70 L480.70 230.30 L481.60 240.60 L482.10 254.30 L482.40 264.60 L482.80 274.90" stroke="#808080" stroke-width="1.4" fill="none" stroke-linejoin="round" stroke-linecap="round"  clip-path="url(#clipf)"/><rect x="24.5" y="3.5" width="133.00" height="152.00" stroke="#333" stroke-width="1.1" fill="none"/><path d="M26.90 155.5v2.6M86.20 155.5v2.6M145.50 155.5v2.6M24.5 151.20h-2.6M24.5 116.00h-2.6M24.5 80.80h-2.6M24.5 45.60h-2.6M24.5 10.40h-2.6" stroke="#222" stroke-width="0.9" fill="none"/><text transform="translate(19.90,154.50) scale(1.1,1)" text-anchor="end" font-size="9.5">0</text><text transform="translate(19.90,119.30) scale(1.1,1)" text-anchor="end" font-size="9.5">1</text><text transform="translate(19.90,84.10) scale(1.1,1)" text-anchor="end" font-size="9.5">2</text><text transform="translate(19.90,48.90) scale(1.1,1)" text-anchor="end" font-size="9.5">3</text><text transform="translate(19.90,13.70) scale(1.1,1)" text-anchor="end" font-size="9.5">4</text><text transform="translate(25.40,13.10) scale(1.1,1)" text-anchor="start" font-size="9.5">a)</text><rect x="204.5" y="3.5" width="133.00" height="152.00" stroke="#333" stroke-width="1.1" fill="none"/><path d="M207.20 155.5v2.6M267.00 155.5v2.6M326.80 155.5v2.6M204.5 149.20h-2.6M204.5 123.94h-2.6M204.5 98.68h-2.6M204.5 73.42h-2.6M204.5 48.16h-2.6M204.5 22.90h-2.6" stroke="#222" stroke-width="0.9" fill="none"/><text transform="translate(199.90,152.50) scale(1.1,1)" text-anchor="end" font-size="9.5">0</text><text transform="translate(199.90,127.24) scale(1.1,1)" text-anchor="end" font-size="9.5">100</text><text transform="translate(199.90,101.98) scale(1.1,1)" text-anchor="end" font-size="9.5">200</text><text transform="translate(199.90,76.72) scale(1.1,1)" text-anchor="end" font-size="9.5">300</text><text transform="translate(199.90,51.46) scale(1.1,1)" text-anchor="end" font-size="9.5">400</text><text transform="translate(199.90,26.20) scale(1.1,1)" text-anchor="end" font-size="9.5">500</text><text transform="translate(205.40,13.10) scale(1.1,1)" text-anchor="start" font-size="9.5">b)</text><rect x="385.5" y="3.5" width="133.00" height="152.00" stroke="#333" stroke-width="1.1" fill="none"/><path d="M385.40 155.5v2.6M418.70 155.5v2.6M452.00 155.5v2.6M485.30 155.5v2.6M518.60 155.5v2.6M385.5 155.50h-2.6M385.5 125.08h-2.6M385.5 94.66h-2.6M385.5 64.24h-2.6M385.5 33.82h-2.6M385.5 3.40h-2.6" stroke="#222" stroke-width="0.9" fill="none"/><text transform="translate(380.90,158.80) scale(1.1,1)" text-anchor="end" font-size="9.5">3.0</text><path d="M359.90 155.50H365.50" stroke="#000" stroke-width="0.95"/><text transform="translate(380.90,128.38) scale(1.1,1)" text-anchor="end" font-size="9.5">2.5</text><path d="M359.90 125.08H365.50" stroke="#000" stroke-width="0.95"/><text transform="translate(380.90,97.96) scale(1.1,1)" text-anchor="end" font-size="9.5">2.0</text><path d="M359.90 94.66H365.50" stroke="#000" stroke-width="0.95"/><text transform="translate(380.90,67.54) scale(1.1,1)" text-anchor="end" font-size="9.5">1.5</text><path d="M359.90 64.24H365.50" stroke="#000" stroke-width="0.95"/><text transform="translate(380.90,37.12) scale(1.1,1)" text-anchor="end" font-size="9.5">1.0</text><path d="M359.90 33.82H365.50" stroke="#000" stroke-width="0.95"/><text transform="translate(380.90,6.70) scale(1.1,1)" text-anchor="end" font-size="9.5">0.5</text><path d="M359.90 3.40H365.50" stroke="#000" stroke-width="0.95"/><text transform="translate(386.40,13.10) scale(1.1,1)" text-anchor="start" font-size="9.5">c)</text><rect x="24.5" y="173.8" width="133.00" height="152.20" stroke="#333" stroke-width="1.1" fill="none"/><path d="M26.90 326.0v2.6M86.20 326.0v2.6M145.50 326.0v2.6M24.5 313.20h-2.6M24.5 279.27h-2.6M24.5 245.34h-2.6M24.5 211.41h-2.6M24.5 177.48h-2.6" stroke="#222" stroke-width="0.9" fill="none"/><text transform="translate(26.90,337.90) scale(1.1,1)" text-anchor="middle" font-size="9.5">1.0</text><text transform="translate(86.20,337.90) scale(1.1,1)" text-anchor="middle" font-size="9.5">1.5</text><text transform="translate(145.50,337.90) scale(1.1,1)" text-anchor="middle" font-size="9.5">2.0</text><text transform="translate(19.90,316.50) scale(1.1,1)" text-anchor="end" font-size="9.5">0</text><text transform="translate(19.90,282.57) scale(1.1,1)" text-anchor="end" font-size="9.5">1</text><text transform="translate(19.90,248.64) scale(1.1,1)" text-anchor="end" font-size="9.5">2</text><text transform="translate(19.90,214.71) scale(1.1,1)" text-anchor="end" font-size="9.5">3</text><text transform="translate(19.90,180.78) scale(1.1,1)" text-anchor="end" font-size="9.5">4</text><text transform="translate(25.40,183.40) scale(1.1,1)" text-anchor="start" font-size="9.5">d)</text><rect x="204.5" y="173.8" width="133.00" height="152.20" stroke="#333" stroke-width="1.1" fill="none"/><path d="M207.20 326.0v2.6M267.00 326.0v2.6M326.80 326.0v2.6M204.5 320.10h-2.6M204.5 289.90h-2.6M204.5 259.70h-2.6M204.5 229.50h-2.6M204.5 199.30h-2.6" stroke="#222" stroke-width="0.9" fill="none"/><text transform="translate(207.20,337.90) scale(1.1,1)" text-anchor="middle" font-size="9.5">1.0</text><text transform="translate(267.00,337.90) scale(1.1,1)" text-anchor="middle" font-size="9.5">1.5</text><text transform="translate(326.80,337.90) scale(1.1,1)" text-anchor="middle" font-size="9.5">2.0</text><text transform="translate(199.90,323.40) scale(1.1,1)" text-anchor="end" font-size="9.5">0</text><text transform="translate(199.90,293.20) scale(1.1,1)" text-anchor="end" font-size="9.5">100</text><text transform="translate(199.90,263.00) scale(1.1,1)" text-anchor="end" font-size="9.5">200</text><text transform="translate(199.90,232.80) scale(1.1,1)" text-anchor="end" font-size="9.5">300</text><text transform="translate(199.90,202.60) scale(1.1,1)" text-anchor="end" font-size="9.5">400</text><text transform="translate(205.40,183.40) scale(1.1,1)" text-anchor="start" font-size="9.5">e)</text><rect x="385.5" y="173.8" width="133.00" height="152.20" stroke="#333" stroke-width="1.1" fill="none"/><path d="M385.40 326.0v2.6M418.70 326.0v2.6M452.00 326.0v2.6M485.30 326.0v2.6M518.60 326.0v2.6M385.5 326.00h-2.6M385.5 295.62h-2.6M385.5 265.24h-2.6M385.5 234.86h-2.6M385.5 204.48h-2.6M385.5 174.10h-2.6" stroke="#222" stroke-width="0.9" fill="none"/><text transform="translate(385.40,337.90) scale(1.1,1)" text-anchor="middle" font-size="9.5">100.0</text><text transform="translate(418.70,337.90) scale(1.1,1)" text-anchor="middle" font-size="9.5">102.5</text><text transform="translate(452.00,337.90) scale(1.1,1)" text-anchor="middle" font-size="9.5">105.0</text><text transform="translate(485.30,337.90) scale(1.1,1)" text-anchor="middle" font-size="9.5">107.5</text><text transform="translate(518.60,337.90) scale(1.1,1)" text-anchor="middle" font-size="9.5">110.0</text><text transform="translate(380.90,329.30) scale(1.1,1)" text-anchor="end" font-size="9.5">3.0</text><path d="M359.90 326.00H365.50" stroke="#000" stroke-width="0.95"/><text transform="translate(380.90,298.92) scale(1.1,1)" text-anchor="end" font-size="9.5">2.5</text><path d="M359.90 295.62H365.50" stroke="#000" stroke-width="0.95"/><text transform="translate(380.90,268.54) scale(1.1,1)" text-anchor="end" font-size="9.5">2.0</text><path d="M359.90 265.24H365.50" stroke="#000" stroke-width="0.95"/><text transform="translate(380.90,238.16) scale(1.1,1)" text-anchor="end" font-size="9.5">1.5</text><path d="M359.90 234.86H365.50" stroke="#000" stroke-width="0.95"/><text transform="translate(380.90,207.78) scale(1.1,1)" text-anchor="end" font-size="9.5">1.0</text><path d="M359.90 204.48H365.50" stroke="#000" stroke-width="0.95"/><text transform="translate(380.90,177.40) scale(1.1,1)" text-anchor="end" font-size="9.5">0.5</text><path d="M359.90 174.10H365.50" stroke="#000" stroke-width="0.95"/><text transform="translate(386.40,183.40) scale(1.1,1)" text-anchor="start" font-size="9.5">f)</text><text transform="translate(91.40,348.50) scale(1.1,1)" text-anchor="middle" font-size="9.5">R [m]</text><text transform="translate(271.60,348.50) scale(1.1,1)" text-anchor="middle" font-size="9.5">R [m]</text><text transform="translate(451.90,348.50) scale(1.1,1)" text-anchor="middle" font-size="9.5">time [ms]</text><g transform="translate(9.0,0) rotate(-90)"><text x="-100.95" y="0.00" font-size="10">j</text><text x="-99.00" y="1.00" font-size="7">ϕ</text><text x="-94.40" y="0.00" font-size="10">[MA/m</text><text x="-64.90" y="-4.50" font-size="6">2</text><text x="-60.20" y="0.00" font-size="10">]</text></g><g transform="translate(9.0,0) rotate(-90)"><text x="-271.95" y="0.00" font-size="10">j</text><text x="-270.00" y="1.00" font-size="7">ϕ</text><text x="-265.40" y="0.00" font-size="10">[MA/m</text><text x="-235.90" y="-4.50" font-size="6">2</text><text x="-231.20" y="0.00" font-size="10">]</text></g><g transform="translate(178.7,0) rotate(-90)"><text x="-93.90" y="0.00" font-size="10">T</text><text x="-87.45" y="0.70" font-size="7">e</text><text x="-83.10" y="0.00" font-size="10">[eV]</text></g><g transform="translate(178.7,0) rotate(-90)"><text x="-264.10" y="0.00" font-size="10">T</text><text x="-257.65" y="0.70" font-size="7">e</text><text x="-253.30" y="0.00" font-size="10">[eV]</text></g><g transform="translate(354.5,0) rotate(-90)"><text x="-82.20" y="0.00" font-size="10">q</text></g><g transform="translate(354.5,0) rotate(-90)"><text x="-253.00" y="0.00" font-size="10">q</text></g><rect x="483.5" y="9.4" width="48.8" height="28.0" rx="2" fill="#fff" fill-opacity="0.95" stroke="#d4d4d4" stroke-width="0.9"/><path d="M486 16.6H505" stroke="#000" stroke-width="1.5"/><path d="M486 30.3H505" stroke="#808080" stroke-width="1.5"/><text transform="translate(511.90,20.10) scale(1.1,1)" text-anchor="start" font-size="9.5">q95</text><text transform="translate(511.90,32.90) scale(1.1,1)" text-anchor="start" font-size="9.5">q02</text></svg></body></html>
